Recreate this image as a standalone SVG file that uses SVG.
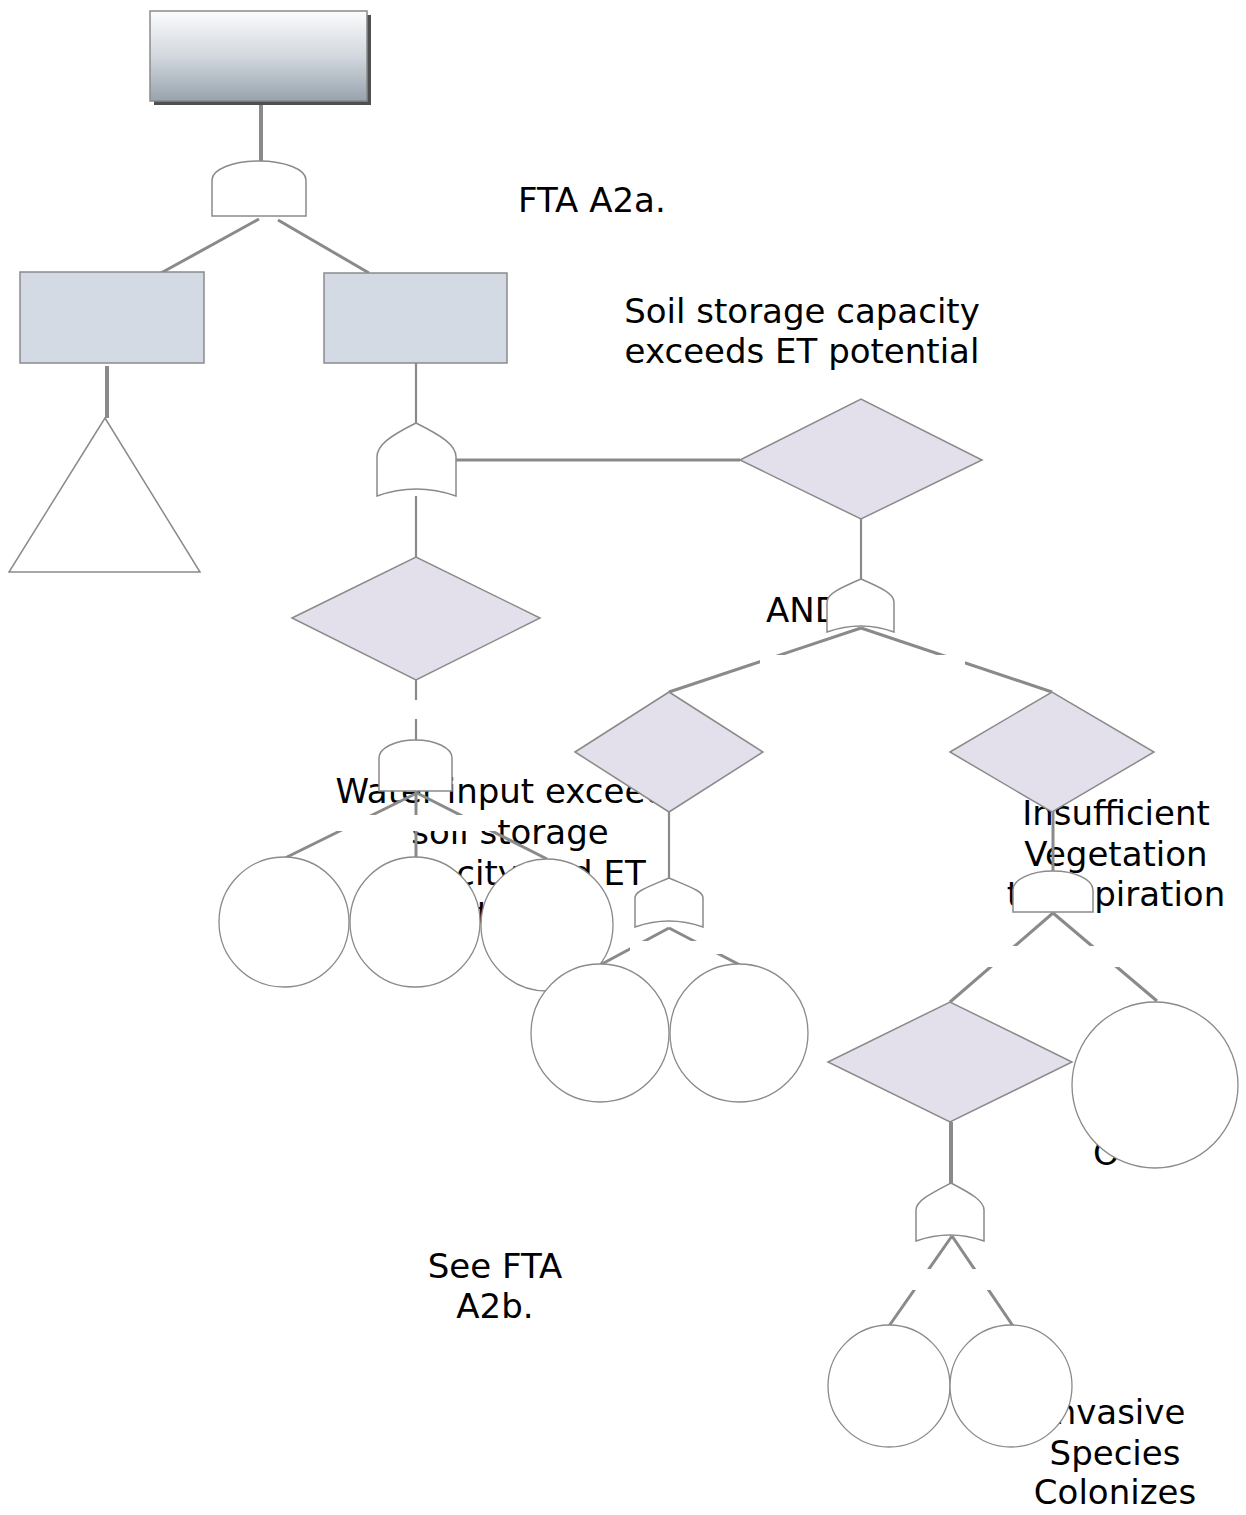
<svg xmlns="http://www.w3.org/2000/svg" width="1246" height="1515" viewBox="0 0 1246 1515">
<defs>
<linearGradient id="topGrad" x1="0" y1="0" x2="0" y2="1">
<stop offset="0" stop-color="#fbfcfd"/>
<stop offset="0.5" stop-color="#d2d8de"/>
<stop offset="1" stop-color="#98a3ad"/>
</linearGradient>
<style>
.txt{font-family:"DejaVu Sans","Liberation Sans",sans-serif;font-size:34px;fill:#000}
.mid{text-anchor:middle}
.con{stroke:#8a8a8a;stroke-width:3;fill:none}
.thick{stroke-width:4}
.thin{stroke-width:2.2}
.gate{fill:#fff;stroke:#8a8a8a;stroke-width:1.5}
.box{fill:#d3dae4;stroke:#8a8a8a;stroke-width:1.5}
.dia{fill:#e3e0ec;stroke:#8a8a8a;stroke-width:1.5}
.circ{fill:#fff;stroke:#8a8a8a;stroke-width:1.3}
.occ{fill:#fff;stroke:none}
</style>
</defs>
<rect width="1246" height="1515" fill="#fff"/>

<g id="labels">
<text class="txt" x="518" y="212">FTA A2a.</text>
<text class="txt mid" x="802" y="323">Soil storage capacity</text>
<text class="txt mid" x="802" y="363">exceeds ET potential</text>
<text class="txt" x="766" y="622">AND</text>
<text class="txt mid" x="510" y="803">Water input exceeds</text>
<text class="txt mid" x="510" y="844">soil storage</text>
<text class="txt mid" x="510" y="885">capacity and ET</text>
<text class="txt mid" x="510" y="926">potential</text>
<text class="txt mid" x="1116" y="825">Insufficient</text>
<text class="txt mid" x="1116" y="866">Vegetation</text>
<text class="txt mid" x="1116" y="906">transpiration</text>
<text class="txt" x="1093" y="1165">O</text>
<text class="txt mid" x="495" y="1278">See FTA</text>
<text class="txt mid" x="495" y="1318">A2b.</text>
<text class="txt mid" x="1115" y="1424">Invasive</text>
<text class="txt mid" x="1115" y="1465">Species</text>
<text class="txt mid" x="1115" y="1504">Colonizes</text>
</g>

<g id="connectors">
<line class="con thick" x1="261" y1="101" x2="261" y2="161"/>
<line class="con" x1="259" y1="219" x2="161" y2="273"/>
<line class="con" x1="278" y1="220" x2="369" y2="273"/>
<line class="con thick" x1="107" y1="366" x2="107" y2="418"/>
<line class="con thin" x1="416" y1="363" x2="416" y2="423"/>
<line class="con" x1="456" y1="460" x2="740" y2="460"/>
<line class="con thin" x1="416" y1="496" x2="416" y2="557"/>
<line class="con thin" x1="416" y1="680" x2="416" y2="740"/>
<line class="con thin" x1="861" y1="519" x2="861" y2="579"/>
<line class="con" x1="861" y1="628" x2="669" y2="692"/>
<line class="con" x1="861" y1="628" x2="1052" y2="692"/>
<line class="con" x1="417" y1="793" x2="285" y2="858"/>
<line class="con" x1="416" y1="791" x2="416" y2="858"/>
<line class="con" x1="417" y1="793" x2="547" y2="859"/>
<line class="con thin" x1="669" y1="812" x2="669" y2="878"/>
<line class="con" x1="669" y1="928" x2="600" y2="965"/>
<line class="con" x1="669" y1="928" x2="740" y2="965"/>
<line class="con" x1="1053" y1="811" x2="1053" y2="871"/>
<line class="con" x1="1053" y1="913" x2="950" y2="1002"/>
<line class="con" x1="1053" y1="913" x2="1157" y2="1001"/>
<line class="con thick" x1="951" y1="1122" x2="951" y2="1183"/>
<line class="con" x1="952" y1="1236" x2="889" y2="1326"/>
<line class="con" x1="952" y1="1236" x2="1013" y2="1326"/>
</g>

<g id="occluders">
<rect class="occ" x="400" y="700" width="32" height="19"/>
<rect class="occ" x="330" y="815" width="168" height="16"/>
<rect class="occ" x="760" y="655" width="205" height="11"/>
<rect class="occ" x="630" y="941" width="95" height="13"/>
<rect class="occ" x="985" y="946" width="140" height="21"/>
<rect class="occ" x="895" y="1269" width="110" height="21"/>
</g>

<g id="top-event">
<rect x="154" y="15" width="217" height="90" fill="#4f4f4f"/>
<rect x="150" y="11" width="217" height="90" fill="url(#topGrad)" stroke="#8a8a8a" stroke-width="1.5"/>
</g>
<g id="and-gate-1"><path class="gate" d="M212,216 L212,180 A47,19 0 0 1 306,180 L306,216 Z"/></g>
<g id="box-left"><rect class="box" x="20" y="272" width="184" height="91"/></g>
<g id="box-right"><rect class="box" x="324" y="273" width="183" height="90"/></g>
<g id="transfer-triangle"><polygon class="gate" points="105,418 9,572 200,572"/></g>
<g id="or-gate-1"><path class="gate" d="M377,496 L377,457 C377,445 390,436 416,423 C442,436 456,445 456,457 L456,496 Q416,482 377,496 Z"/></g>
<g id="diamond-1"><polygon class="dia" points="740,460 861,399 982,460 861,519"/></g>
<g id="diamond-2"><polygon class="dia" points="292,618 416,557 540,618 416,680"/></g>
<g id="or-gate-3"><path class="gate" d="M827,632 L827,602 C827,594 840,588 861,579 C882,588 894,594 894,602 L894,632 Q861,620 827,632 Z"/></g>
<g id="and-gate-2"><path class="gate" d="M379,791 L379,758 A36.5,18 0 0 1 452,758 L452,791 Z"/></g>
<g id="diamond-3"><polygon class="dia" points="575,752 669,692 763,752 669,812"/></g>
<g id="diamond-4"><polygon class="dia" points="950,752 1052,692 1154,752 1052,812"/></g>
<g id="or-gate-4"><path class="gate" d="M635,927 L635,898 C635,891 648,887 669,878 C690,887 703,891 703,898 L703,927 Q669,915 635,927 Z"/></g>
<g id="and-gate-5"><path class="gate" d="M1013,912 L1013,890 A40,19 0 0 1 1093,890 L1093,912 Z"/></g>
<g id="circle-1"><circle class="circ" cx="284" cy="922" r="65"/></g>
<g id="circle-2"><circle class="circ" cx="415" cy="922" r="65"/></g>
<g id="circle-3"><circle class="circ" cx="547" cy="925" r="66"/></g>
<g id="circle-5"><circle class="circ" cx="600" cy="1033" r="69"/></g>
<g id="circle-6"><circle class="circ" cx="739" cy="1033" r="69"/></g>
<g id="diamond-5"><polygon class="dia" points="828,1062 950,1002 1072,1062 950,1122"/></g>
<g id="circle-7"><circle class="circ" cx="1155" cy="1085" r="83"/></g>
<g id="or-gate-6"><path class="gate" d="M916,1241 L916,1210 C916,1201 930,1194 951,1183 C972,1194 984,1201 984,1210 L984,1241 Q950,1229 916,1241 Z"/></g>
<g id="circle-8"><circle class="circ" cx="889" cy="1386" r="61"/></g>
<g id="circle-9"><circle class="circ" cx="1011" cy="1386" r="61"/></g>
</svg>
